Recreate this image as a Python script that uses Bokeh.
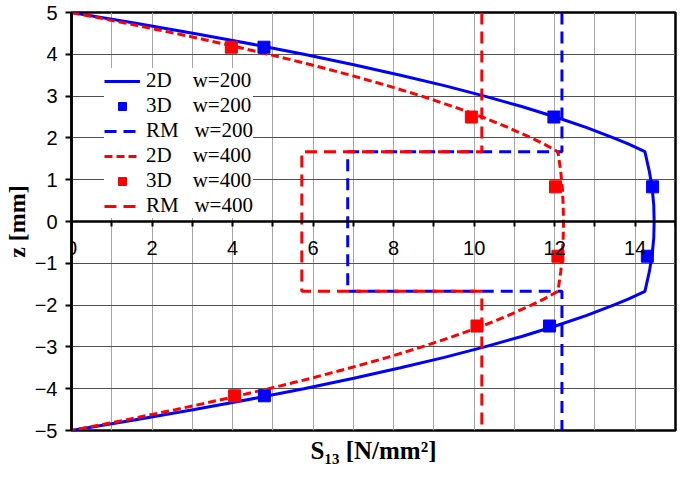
from bokeh.plotting import figure
from bokeh.models import Legend, LegendItem, LinearAxis, FixedTicker
from bokeh.embed import file_html
from bokeh.resources import INLINE

# ---- data ----
z_2d = [5, 4.75, 4.5, 4.35, 4.2, 4, 3.75, 3.5, 3.25, 3, 2.75, 2.5, 2.25, 2, 1.85, 1.67,
        1.2, 0.8, 0.4, 0, -0.4, -0.8, -1.2,
        -1.67, -1.85, -2, -2.25, -2.5, -2.75, -3, -3.25, -3.5, -3.75, -4, -4.2, -4.35, -4.5, -4.75, -5]
s_2d_w200 = [0, 1.56, 3.05, 3.90, 4.72, 5.77, 7.01, 8.17, 9.26, 10.26, 11.18, 12.02, 12.78, 13.46, 13.84, 14.24,
             14.35, 14.42, 14.46, 14.47, 14.46, 14.42, 14.35,
             14.24, 13.84, 13.46, 12.78, 12.02, 11.18, 10.26, 9.26, 8.17, 7.01, 5.77, 4.72, 3.90, 3.05, 1.56, 0]
s_2d_w400 = [0, 1.33, 2.58, 3.31, 4.00, 4.90, 5.95, 6.93, 7.85, 8.70, 9.48, 10.20, 10.84, 11.42, 11.74, 12.08,
             12.15, 12.19, 12.21, 12.22, 12.21, 12.19, 12.15,
             12.08, 11.74, 11.42, 10.84, 10.20, 9.48, 8.70, 7.85, 6.93, 5.95, 4.90, 4.00, 3.31, 2.58, 1.33, 0]
z_3d = [4.17, 2.5, 0.83, -0.83, -2.5, -4.17]
s_3d_w200 = [4.78, 11.98, 14.43, 14.30, 11.87, 4.79]
s_3d_w400 = [3.97, 9.93, 12.02, 12.08, 10.07, 4.05]
z_rm = [5, 1.67, 1.67, -1.67, -1.67, -5]
s_rm_w200 = [12.18, 12.18, 6.86, 6.86, 12.18, 12.18]
s_rm_w400 = [10.19, 10.19, 5.72, 5.72, 10.19, 10.19]

NB = "\u00a0"
labels = ["2D" + NB * 4 + "w=200", "3D" + NB * 4 + "w=200", "RM" + NB * 3 + "w=200",
          "2D" + NB * 4 + "w=400", "3D" + NB * 4 + "w=400", "RM" + NB * 3 + "w=400"]
x_ticks = list(range(0, 15, 2))
x_minor = list(range(1, 16, 2))
y_ticks = list(range(-5, 6))

BLUE = "#0000FF"
RED = "#FF0000"

p = figure(width=677, height=466, x_range=(0, 15), y_range=(-5, 5),
           output_backend="svg", toolbar_location=None,
           min_border_left=62, min_border_right=2, min_border_top=12, min_border_bottom=36)
p.background_fill_color = "white"
p.border_fill_color = "white"
p.outline_line_color = "black"
p.outline_line_width = 2.5

# x axis drawn through z = 0
xa = p.xaxis[0]
xa.fixed_location = 0
xa.ticker = FixedTicker(ticks=x_ticks, minor_ticks=x_minor)
xa.axis_line_width = 2.5
xa.major_tick_line_width = 2
xa.minor_tick_line_width = 2
xa.major_tick_out = 5
xa.major_tick_in = 0
xa.minor_tick_out = 5
xa.minor_tick_in = 0
xa.major_label_standoff = 14
xa.major_label_text_font = "Liberation Sans"
xa.major_label_text_font_size = "20px"
xa.major_label_text_color = "black"

# grids follow the axis tickers
p.xgrid.grid_line_color = "#a6a6a6"
p.xgrid.grid_line_width = 1
p.xgrid.minor_grid_line_color = "#a6a6a6"
p.xgrid.minor_grid_line_width = 1

ya = p.yaxis[0]
ya.ticker = FixedTicker(ticks=y_ticks)
ya.axis_line_width = 2.5
ya.major_tick_line_width = 2
ya.major_tick_out = 6
ya.major_tick_in = 0
ya.minor_tick_line_color = None
ya.major_label_standoff = 8
ya.major_label_text_font = "Liberation Sans"
ya.major_label_text_font_size = "20px"
ya.major_label_text_color = "black"
ya.axis_label = "z [mm]"
ya.axis_label_text_font = "Liberation Serif"
ya.axis_label_text_font_style = "bold"
ya.axis_label_text_font_size = "24px"
ya.axis_label_standoff = 2
ya.axis_label_text_color = "black"

p.ygrid.grid_line_color = "#505050"
p.ygrid.grid_line_width = 1.2

# x axis title at the bottom
lab = LinearAxis(ticker=FixedTicker(ticks=[]), axis_line_color=None,
                 major_tick_line_color=None, minor_tick_line_color=None,
                 major_tick_out=0, minor_tick_out=0, major_label_text_font_size="0px")
lab.axis_label = "S\u2081\u2083 [N/mm\u00b2]"
lab.axis_label_text_font = "Liberation Serif"
lab.axis_label_text_font_style = "bold"
lab.axis_label_text_font_size = "25px"
lab.axis_label_standoff = 6
lab.axis_label_text_color = "black"
p.add_layout(lab, "below")

# series
r1 = p.line(s_2d_w200, z_2d, line_color=BLUE, line_width=3)
r3 = p.line(s_rm_w200, z_rm, line_color=BLUE, line_width=3, line_dash="12 7")
r4 = p.line(s_2d_w400, z_2d, line_color=RED, line_width=3, line_dash="8 4")
r6 = p.line(s_rm_w400, z_rm, line_color=RED, line_width=3, line_dash="12 7")
r2 = p.scatter(s_3d_w200, z_3d, marker="square", size=12, fill_color=BLUE, line_color=BLUE)
r5 = p.scatter(s_3d_w400, z_3d, marker="square", size=12, fill_color=RED, line_color=RED)

legend = Legend(items=[LegendItem(label=labels[0], renderers=[r1]),
                       LegendItem(label=labels[1], renderers=[r2]),
                       LegendItem(label=labels[2], renderers=[r3]),
                       LegendItem(label=labels[3], renderers=[r4]),
                       LegendItem(label=labels[4], renderers=[r5]),
                       LegendItem(label=labels[5], renderers=[r6])],
                location=(33, 212))
legend.background_fill_color = "white"
legend.background_fill_alpha = 1
legend.border_line_color = None
legend.label_text_font = "Liberation Serif"
legend.label_text_font_size = "21px"
legend.label_text_color = "black"
legend.glyph_width = 36
legend.glyph_height = 20
legend.label_height = 23
legend.label_standoff = 6
legend.spacing = 0
legend.padding = 4
legend.margin = 0
p.add_layout(legend)

open("out.html", "w").write(file_html(p, INLINE))
